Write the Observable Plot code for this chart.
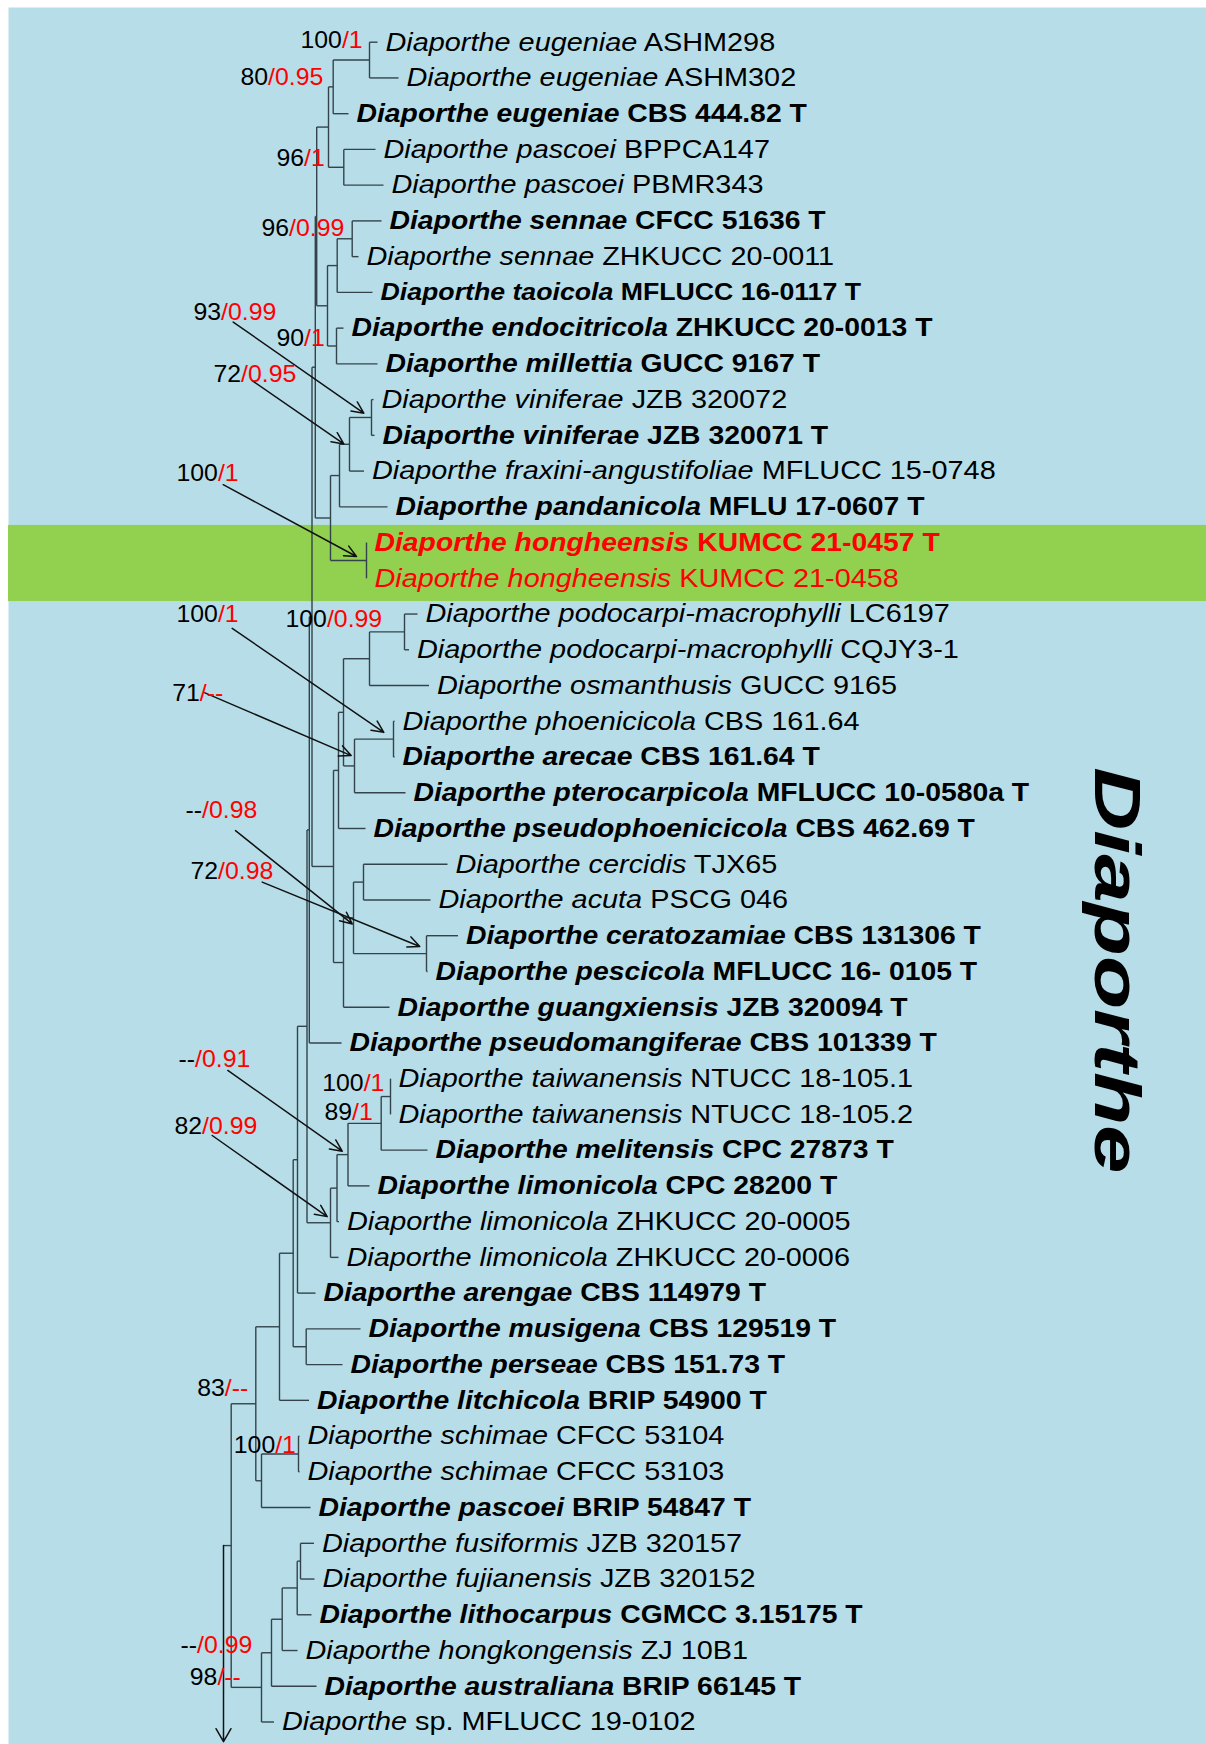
<!DOCTYPE html>
<html><head><meta charset="utf-8">
<script src="https://cdn.jsdelivr.net/npm/d3@7"></script>
<script src="https://cdn.jsdelivr.net/npm/@observablehq/plot@0.6"></script>
<style>
html,body{margin:0;padding:0;background:#fff;}
#chart svg{display:block;}
</style></head><body><div id="chart"></div>
<script>
// ---------------- data ----------------
const genus = "Diaporthe";
const newSpecies = "hongheensis";
const species = ["eugeniae","eugeniae","eugeniae","pascoei","pascoei","sennae","sennae","taoicola","endocitricola","millettia",
  "viniferae","viniferae","fraxini-angustifoliae","pandanicola","hongheensis","hongheensis","podocarpi-macrophylli","podocarpi-macrophylli","osmanthusis","phoenicicola",
  "arecae","pterocarpicola","pseudophoenicicola","cercidis","acuta","ceratozamiae","pescicola","guangxiensis","pseudomangiferae","taiwanensis",
  "taiwanensis","melitensis","limonicola","limonicola","limonicola","arengae","musigena","perseae","litchicola","schimae",
  "schimae","pascoei","fusiformis","fujianensis","lithocarpus","hongkongensis","australiana","sp."];
const strains = ["ASHM298","ASHM302","CBS 444.82 T","BPPCA147","PBMR343","CFCC 51636 T","ZHKUCC 20-0011","MFLUCC 16-0117 T","ZHKUCC 20-0013 T","GUCC 9167 T",
  "JZB 320072","JZB 320071 T","MFLUCC 15-0748","MFLU 17-0607 T","KUMCC 21-0457 T","KUMCC 21-0458","LC6197","CQJY3-1","GUCC 9165","CBS 161.64",
  "CBS 161.64 T","MFLUCC 10-0580a T","CBS 462.69 T","TJX65","PSCG 046","CBS 131306 T","MFLUCC 16- 0105 T","JZB 320094 T","CBS 101339 T","NTUCC 18-105.1",
  "NTUCC 18-105.2","CPC 27873 T","CPC 28200 T","ZHKUCC 20-0005","ZHKUCC 20-0006","CBS 114979 T","CBS 129519 T","CBS 151.73 T","BRIP 54900 T","CFCC 53104",
  "CFCC 53103","BRIP 54847 T","JZB 320157","JZB 320152","CGMCC 3.15175 T","ZJ 10B1","BRIP 66145 T","MFLUCC 19-0102"];
// tip depth of each leaf (tree units)
const tipX = [377,398,348,375,383,381,358,372,343,377,
  373,374,363.5,387,366,366,417,408.5,428.5,394,
  394,405,365,447,430,457.5,427,389,341,390,
  390,427,369,338.5,338,315,360,342,308.5,299,
  299,310,313.5,314,311,297,316,273.5];
// internal nodes: [name, depth, child A, child B] (numbers = leaf rows)
const clades = [
  ["eug",369,0,1],["eugC",332.7,"eug",2],["pas",343.3,3,4],["A",328,"eugC","pas"],
  ["sen",351.7,5,6],["senT",336.7,"sen",7],["endo",336,8,9],["B",327,"senT","endo"],
  ["C",316.2,"A","B"],
  ["vin",371,10,11],["vinF",349,"vin",12],["vinFP",339,"vinF",13],["hong",366,14,15],["E",330,"vinFP","hong"],
  ["D",314.8,"C","E"],
  ["podo",404,16,17],["podoO",369,"podo",18],["phoe",393,19,20],["phoeP",354,"phoe",21],
  ["G",343,"podoO","phoeP"],["H",338,"G",22],
  ["cer",363,23,24],["cerat",426,25,26],["cc",353,"cer","cerat"],["J",343,"cc",27],
  ["I",333,"H","J"],["F",311.5,"D","I"],["L",308.8,"F",28],
  ["tai",390,29,30],["taiM",380.7,"tai",31],["N1",347.5,"taiM",32],["Q",336.5,"N1",33],["P",330,"Q",34],
  ["L2",306.5,"L","P"],["R",297,"L2",35],["mp",305.7,36,37],["S",292.7,"R","mp"],["T",279,"S",38],
  ["sch",298,39,40],["schP",261,"sch",41],["U",255.3,"T","schP"],
  ["ff",300,42,43],["ffl",296.7,"ff",44],["fflh",281.7,"ffl",45],["fa",271,"fflh",46],["fas",261,"fa",47],
  ["V",230.7,"U","fas"]
];
const rootX = 223;
const rootArrowEndRow = 47.55;
// support values (ML bootstrap / Bayesian PP)
const supportText = ["100/1","80/0.95","96/1","96/0.99","93/0.99","90/1","72/0.95","100/1","100/1","100/0.99",
  "71/--","--/0.98","72/0.98","--/0.91","82/0.99","100/1","89/1","83/--","100/1","--/0.99","98/--"];
const supportX = [300,240,276,261,193,276,213,176,176,285,171.7,185,190,178,174,321.7,324,196.7,233.3,180,189.3];
const supportRow = [-0.05,0.99,3.25,5.21,7.56,8.29,9.30,12.06,16.01,16.15,18.22,21.5,23.2,28.46,30.34,29.13,29.94,37.68,39.26,44.86,45.75];
// pointer arrows from support values to nodes
const arrowX1 = [232.7,251.7,222.7,231.7,203.3,235,261.7,227.3,211.7];
const arrowRow1 = [7.83,9.47,12.38,16.40,18.19,22.06,23.50,28.77,30.59];
const arrowX2 = [363.3,343.3,356,383.3,350.7,351.7,419.3,341.7,326.7];
const arrowRow2 = [10.38,11.24,14.39,19.31,19.96,24.67,25.30,31.03,32.86];
// highlighted band (rows) for the new species
const bandRows = [13.52, 15.65];
// clade label
const cladeName = "Diaporthe";
const cladeLabelX = 1094;
const cladeLabelRow = 25.97;

// ---------------- build ----------------
const leaves = species.map((s, i) => ({
  row: i, species: s, strain: strains[i], tip: tipX[i],
  type: strains[i].endsWith(" T"),
  label: `${genus} ${s} ${strains[i]}`
}));
const byName = new Map(clades.map(c => [c[0], c]));
const nodeX = r => typeof r === "number" ? tipX[r] : byName.get(r)[1];
const yMemo = new Map();
function nodeY(r) {
  if (typeof r === "number") return r;
  if (yMemo.has(r)) return yMemo.get(r);
  const c = byName.get(r);
  const v = (nodeY(c[2]) + nodeY(c[3])) / 2;
  yMemo.set(r, v);
  return v;
}
const segs = [];
for (const [name, x, a, b] of clades) {
  segs.push({x1: x, y1: nodeY(a), x2: x, y2: nodeY(b)});
  for (const ch of [a, b]) segs.push({x1: x, y1: nodeY(ch), x2: nodeX(ch), y2: nodeY(ch)});
}
const rootName = clades[clades.length - 1][0];
segs.push({x1: rootX, y1: nodeY(rootName), x2: nodeX(rootName), y2: nodeY(rootName)});
const rootArrow = [{x1: rootX, y1: nodeY(rootName), x2: rootX, y2: rootArrowEndRow}];
const pointers = arrowX1.map((x, i) => ({x1: x, y1: arrowRow1[i], x2: arrowX2[i], y2: arrowRow2[i]}));
const supports = supportText.map((t, i) => ({text: t, x: supportX[i], row: supportRow[i]}));

const W = 1206, H = 1744;
const FONT = "'Liberation Sans', Arial, Helvetica, sans-serif";
const chart = Plot.plot({
  width: W, height: H, margin: 0,
  x: {domain: [0, W], range: [0, W], axis: null},
  y: {domain: [0, 47], range: [41.7, 1721.5], axis: null},
  style: {background: "#ffffff", fontFamily: FONT},
  marks: [
    Plot.frame({fill: "#b7dee8", stroke: "none", insetLeft: 8, insetTop: 7}),
    Plot.rect([bandRows], {y1: d => d[0], y2: d => d[1], fill: "#92d050", insetLeft: 8}),
    Plot.link(segs, {x1: "x1", y1: "y1", x2: "x2", y2: "y2", stroke: "#34434b", strokeWidth: 1.4}),
    Plot.arrow(pointers, {x1: "x1", y1: "y1", x2: "x2", y2: "y2", stroke: "#111", strokeWidth: 1.5, headLength: 13, headAngle: 50, bend: 0}),
    Plot.arrow(rootArrow, {x1: "x1", y1: "y1", x2: "x2", y2: "y2", stroke: "#111", strokeWidth: 1.5, headLength: 15, headAngle: 60, bend: 0}),
    Plot.text(leaves, {x: "tip", y: "row", text: "label", dx: 8, textAnchor: "start", lineAnchor: "middle",
      fontSize: 26, fill: d => d.species === newSpecies ? "#ff0000" : "#000000"}),
    Plot.text(supports, {x: "x", y: "row", text: "text", textAnchor: "start", lineAnchor: "middle", fontSize: 23, fill: "#000000"}),
    Plot.text([cladeName], {x: () => cladeLabelX, y: () => cladeLabelRow, text: d => d, rotate: 90, textAnchor: "middle",
      lineAnchor: "bottom", fontSize: 64, fontWeight: "bold", fontStyle: "italic", fill: "#000000"})
  ]
});

// ---------------- rich text styling ----------------
function stretch(el, sx) {
  const tr = el.getAttribute("transform") || "";
  el.setAttribute("transform", `${tr} scale(${sx},1)`.trim());
}
const leafByLabel = new Map(leaves.map(d => [d.label, d]));
const supportSet = new Set(supportText);
d3.select(chart).selectAll("text").each(function () {
  const s = this.textContent;
  const sel = d3.select(this);
  if (leafByLabel.has(s)) {
    const d = leafByLabel.get(s);
    sel.text(null);
    if (d.species === "sp.") {
      sel.append("tspan").attr("font-style", "italic").text(genus);
      sel.append("tspan").text(" sp. " + d.strain);
    } else {
      sel.append("tspan").attr("font-style", "italic").text(genus + " " + d.species);
      sel.append("tspan").text(" " + d.strain);
    }
    sel.attr("font-weight", d.type ? "bold" : "normal");
    if (d.species === "taoicola") sel.attr("font-size", 24.5);
    stretch(this, d.type ? 1.09 : 1.11);
  } else if (supportSet.has(s)) {
    const k = s.indexOf("/");
    sel.text(null);
    sel.append("tspan").attr("fill", "#000").text(s.slice(0, k));
    sel.append("tspan").attr("fill", "#ff0000").text(s.slice(k));
    stretch(this, 1.08);
  } else if (s === cladeName) {
    stretch(this, 1.36);
  }
});
document.getElementById("chart").appendChild(chart);
</script>
</body></html>
